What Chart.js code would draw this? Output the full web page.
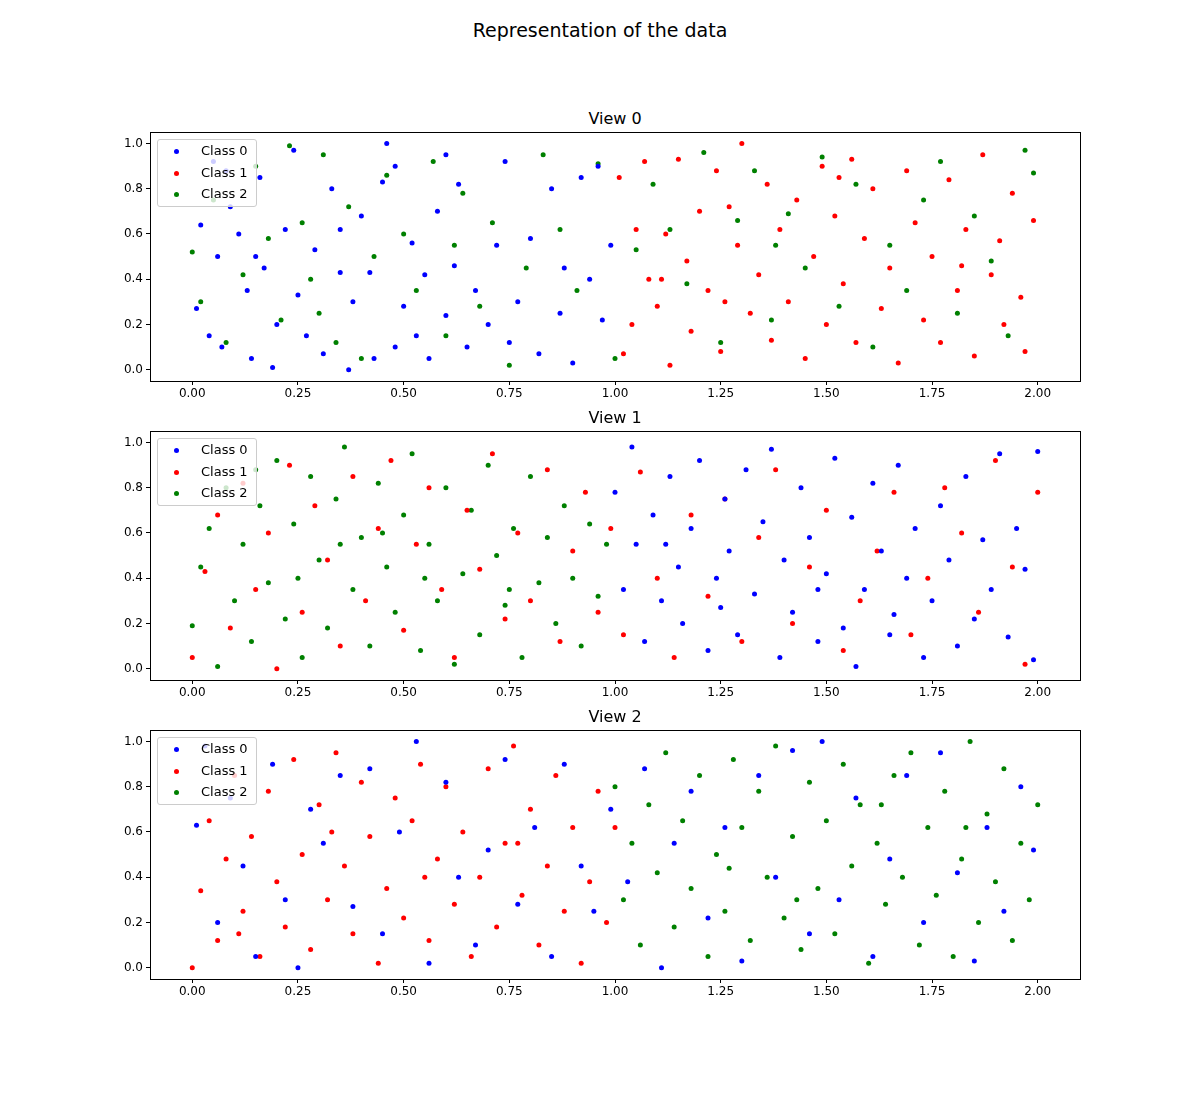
<!DOCTYPE html>
<html>
<head>
<meta charset="utf-8">
<script src="https://cdn.jsdelivr.net/npm/chart.js@4"></script>
<style>
  body { margin: 0; background: #fff; font-family: "DejaVu Sans", sans-serif; }
  #fig { position: relative; width: 1200px; height: 1100px; }
  .sup { position: absolute; top: 19px; left: 0; width: 1200px; text-align: center; font-size: 19px; color: #000; }
  .sub { position: absolute; left: 150px; width: 930px; text-align: center; font-size: 16px; color: #000; }
  .box { position: absolute; left: 0; width: 1200px; height: 289px; }
  .leg { position: absolute; left: 157px; width: 98px; height: 66px; border: 1px solid #ccc; border-radius: 3px; background: rgba(255,255,255,0.8); font-size: 13px; }
  .leg div { position: relative; height: 20.5px; line-height: 20.5px; padding-left: 43px; margin-top: 1px; }
  .leg span { position: absolute; left: 16px; top: 8px; width: 5px; height: 5px; border-radius: 50%; }
</style>
</head>
<body>
<div id="fig">
  <div class="sup">Representation of the data</div>
</div>
<script>
// flat [x, y, x, y, ...] lists
const view0Class0 = [0.01,0.27, 0.02,0.64, 0.04,0.15, 0.05,0.92, 0.06,0.50, 0.07,0.10, 0.09,0.72, 0.11,0.60, 0.13,0.35, 0.14,0.05, 0.16,0.85, 0.17,0.45, 0.19,0.01, 0.20,0.20, 0.22,0.62, 0.24,0.97, 0.25,0.33, 0.27,0.15, 0.29,0.53, 0.31,0.07, 0.33,0.80, 0.35,0.43, 0.37,0.00, 0.38,0.30, 0.40,0.68, 0.42,0.43, 0.43,0.05, 0.45,0.83, 0.46,1.00, 0.48,0.90, 0.50,0.28, 0.52,0.56, 0.53,0.15, 0.55,0.42, 0.56,0.05, 0.58,0.70, 0.60,0.24, 0.62,0.46, 0.63,0.82, 0.65,0.10, 0.67,0.35, 0.70,0.20, 0.72,0.55, 0.74,0.92, 0.75,0.12, 0.77,0.30, 0.80,0.58, 0.82,0.07, 0.85,0.80, 0.87,0.25, 0.88,0.45, 0.90,0.03, 0.92,0.85, 0.94,0.40, 0.96,0.90, 0.97,0.22, 0.99,0.55, 0.60,0.95, 0.48,0.10, 0.15,0.50, 0.35,0.62, 0.08,0.88];
const view0Class1 = [1.01,0.85, 1.02,0.07, 1.04,0.20, 1.05,0.62, 1.07,0.92, 1.08,0.40, 1.10,0.28, 1.12,0.60, 1.13,0.02, 1.15,0.93, 1.17,0.48, 1.18,0.17, 1.20,0.70, 1.22,0.35, 1.24,0.88, 1.25,0.08, 1.27,0.72, 1.29,0.55, 1.30,1.00, 1.32,0.25, 1.34,0.42, 1.36,0.82, 1.37,0.13, 1.39,0.62, 1.41,0.30, 1.43,0.75, 1.45,0.05, 1.47,0.50, 1.49,0.90, 1.50,0.20, 1.52,0.68, 1.54,0.38, 1.56,0.93, 1.57,0.12, 1.59,0.58, 1.61,0.80, 1.63,0.27, 1.65,0.45, 1.67,0.03, 1.69,0.88, 1.71,0.65, 1.73,0.22, 1.75,0.50, 1.77,0.12, 1.79,0.84, 1.81,0.35, 1.83,0.62, 1.85,0.06, 1.87,0.95, 1.89,0.42, 1.91,0.57, 1.92,0.20, 1.94,0.78, 1.96,0.32, 1.97,0.08, 1.99,0.66, 1.26,0.30, 1.53,0.85, 1.82,0.46, 1.11,0.40];
const view0Class2 = [0.00,0.52, 0.02,0.30, 0.05,0.75, 0.08,0.12, 0.12,0.42, 0.15,0.90, 0.18,0.58, 0.21,0.22, 0.23,0.99, 0.26,0.65, 0.28,0.40, 0.31,0.95, 0.34,0.12, 0.37,0.72, 0.40,0.05, 0.43,0.50, 0.46,0.86, 0.50,0.60, 0.53,0.35, 0.57,0.92, 0.60,0.15, 0.64,0.78, 0.68,0.28, 0.71,0.65, 0.75,0.02, 0.79,0.45, 0.83,0.95, 0.87,0.62, 0.91,0.35, 0.96,0.91, 1.00,0.05, 1.05,0.53, 1.09,0.82, 1.13,0.62, 1.17,0.38, 1.21,0.96, 1.25,0.12, 1.29,0.66, 1.33,0.88, 1.37,0.22, 1.41,0.69, 1.45,0.45, 1.49,0.94, 1.53,0.28, 1.57,0.82, 1.61,0.10, 1.65,0.55, 1.69,0.35, 1.73,0.75, 1.77,0.92, 1.81,0.25, 1.85,0.68, 1.89,0.48, 1.93,0.15, 1.97,0.97, 1.99,0.87, 0.30,0.25, 1.38,0.55, 0.62,0.55];

const view1Class0 = [1.00,0.78, 1.02,0.35, 1.04,0.98, 1.05,0.55, 1.07,0.12, 1.09,0.68, 1.11,0.30, 1.13,0.85, 1.15,0.45, 1.16,0.20, 1.18,0.62, 1.20,0.92, 1.22,0.08, 1.24,0.40, 1.26,0.75, 1.27,0.52, 1.29,0.15, 1.31,0.88, 1.33,0.33, 1.35,0.65, 1.37,0.97, 1.39,0.05, 1.40,0.48, 1.42,0.25, 1.44,0.80, 1.46,0.58, 1.48,0.12, 1.50,0.42, 1.52,0.93, 1.54,0.18, 1.56,0.67, 1.57,0.01, 1.59,0.35, 1.61,0.82, 1.63,0.52, 1.65,0.15, 1.67,0.90, 1.69,0.40, 1.71,0.62, 1.73,0.05, 1.75,0.30, 1.77,0.72, 1.79,0.48, 1.81,0.10, 1.83,0.85, 1.85,0.22, 1.87,0.57, 1.89,0.35, 1.91,0.95, 1.93,0.14, 1.95,0.62, 1.97,0.44, 1.99,0.04, 2.00,0.96, 1.48,0.35, 1.25,0.27, 1.66,0.24, 1.12,0.55];
const view1Class1 = [0.00,0.05, 0.03,0.43, 0.06,0.68, 0.09,0.18, 0.12,0.82, 0.15,0.35, 0.18,0.60, 0.20,0.00, 0.23,0.90, 0.26,0.25, 0.29,0.72, 0.32,0.48, 0.35,0.10, 0.38,0.85, 0.41,0.30, 0.44,0.62, 0.47,0.92, 0.50,0.17, 0.53,0.55, 0.56,0.80, 0.59,0.35, 0.62,0.05, 0.65,0.70, 0.68,0.44, 0.71,0.95, 0.74,0.22, 0.77,0.60, 0.80,0.30, 0.84,0.88, 0.87,0.12, 0.90,0.52, 0.93,0.78, 0.96,0.25, 0.99,0.62, 1.02,0.15, 1.06,0.87, 1.10,0.40, 1.14,0.05, 1.18,0.68, 1.22,0.32, 1.26,0.75, 1.30,0.12, 1.34,0.58, 1.38,0.88, 1.42,0.20, 1.46,0.45, 1.50,0.70, 1.54,0.08, 1.58,0.30, 1.62,0.52, 1.66,0.78, 1.70,0.15, 1.74,0.40, 1.78,0.80, 1.82,0.60, 1.86,0.25, 1.90,0.92, 1.94,0.45, 1.97,0.02, 2.00,0.78];
const view1Class2 = [0.00,0.19, 0.02,0.45, 0.04,0.62, 0.06,0.01, 0.08,0.80, 0.10,0.30, 0.12,0.55, 0.14,0.12, 0.16,0.72, 0.18,0.38, 0.20,0.92, 0.22,0.22, 0.24,0.64, 0.26,0.05, 0.28,0.85, 0.30,0.48, 0.32,0.18, 0.34,0.75, 0.36,0.98, 0.38,0.35, 0.40,0.58, 0.42,0.10, 0.44,0.82, 0.46,0.45, 0.48,0.25, 0.50,0.68, 0.52,0.95, 0.54,0.08, 0.56,0.55, 0.58,0.30, 0.60,0.80, 0.62,0.02, 0.64,0.42, 0.66,0.70, 0.68,0.15, 0.70,0.90, 0.72,0.50, 0.74,0.28, 0.76,0.62, 0.78,0.05, 0.80,0.85, 0.82,0.38, 0.84,0.58, 0.86,0.20, 0.88,0.72, 0.90,0.40, 0.92,0.10, 0.94,0.64, 0.96,0.32, 0.98,0.55, 0.15,0.88, 0.35,0.55, 0.55,0.40, 0.75,0.35, 0.25,0.40, 0.45,0.60];

const view2Class0 = [0.01,0.63, 0.03,0.98, 0.06,0.20, 0.09,0.75, 0.12,0.45, 0.15,0.05, 0.19,0.90, 0.22,0.30, 0.25,0.00, 0.28,0.70, 0.31,0.55, 0.35,0.85, 0.38,0.27, 0.42,0.88, 0.45,0.15, 0.49,0.60, 0.53,1.00, 0.56,0.02, 0.60,0.82, 0.63,0.40, 0.67,0.10, 0.70,0.52, 0.74,0.92, 0.77,0.28, 0.81,0.62, 0.85,0.05, 0.88,0.90, 0.92,0.45, 0.95,0.25, 0.99,0.70, 1.03,0.38, 1.07,0.88, 1.11,0.00, 1.14,0.55, 1.18,0.78, 1.22,0.22, 1.26,0.62, 1.30,0.03, 1.34,0.85, 1.38,0.40, 1.42,0.96, 1.46,0.15, 1.49,1.00, 1.53,0.30, 1.57,0.75, 1.61,0.05, 1.65,0.48, 1.69,0.85, 1.73,0.20, 1.77,0.95, 1.81,0.42, 1.85,0.03, 1.88,0.62, 1.92,0.25, 1.96,0.80, 1.99,0.52];
const view2Class1 = [0.00,0.00, 0.02,0.34, 0.04,0.65, 0.06,0.12, 0.08,0.48, 0.10,0.85, 0.12,0.25, 0.14,0.58, 0.16,0.05, 0.18,0.78, 0.20,0.38, 0.22,0.18, 0.24,0.92, 0.26,0.50, 0.28,0.08, 0.30,0.72, 0.32,0.30, 0.34,0.95, 0.36,0.45, 0.38,0.15, 0.40,0.82, 0.42,0.58, 0.44,0.02, 0.46,0.35, 0.48,0.75, 0.50,0.22, 0.52,0.65, 0.54,0.90, 0.56,0.12, 0.58,0.48, 0.60,0.80, 0.62,0.28, 0.64,0.60, 0.66,0.05, 0.68,0.40, 0.70,0.88, 0.72,0.18, 0.74,0.55, 0.76,0.98, 0.78,0.32, 0.80,0.70, 0.82,0.10, 0.84,0.45, 0.86,0.85, 0.88,0.25, 0.90,0.62, 0.92,0.02, 0.94,0.38, 0.96,0.78, 0.98,0.20, 1.00,0.62, 0.11,0.15, 0.33,0.60, 0.55,0.40, 0.77,0.55];
const view2Class2 = [1.00,0.80, 1.02,0.30, 1.04,0.55, 1.06,0.10, 1.08,0.72, 1.10,0.42, 1.12,0.95, 1.14,0.18, 1.16,0.65, 1.18,0.35, 1.20,0.85, 1.22,0.05, 1.24,0.50, 1.26,0.25, 1.28,0.92, 1.30,0.62, 1.32,0.12, 1.34,0.78, 1.36,0.40, 1.38,0.98, 1.40,0.22, 1.42,0.58, 1.44,0.08, 1.46,0.82, 1.48,0.35, 1.50,0.65, 1.52,0.15, 1.54,0.90, 1.56,0.45, 1.58,0.72, 1.60,0.02, 1.62,0.55, 1.64,0.28, 1.66,0.85, 1.68,0.40, 1.70,0.95, 1.72,0.10, 1.74,0.62, 1.76,0.32, 1.78,0.78, 1.80,0.05, 1.82,0.48, 1.84,1.00, 1.86,0.20, 1.88,0.68, 1.90,0.38, 1.92,0.88, 1.94,0.12, 1.96,0.55, 1.98,0.30, 2.00,0.72, 1.27,0.44, 1.43,0.30, 1.63,0.72, 1.83,0.62];

const classNames = ['Class 0', 'Class 1', 'Class 2'];
const classColors = ['#0000ff', '#ff0000', '#008000'];
const viewTitles = ['View 0', 'View 1', 'View 2'];
const views = [
  [view0Class0, view0Class1, view0Class2],
  [view1Class0, view1Class1, view1Class2],
  [view2Class0, view2Class1, view2Class2],
];
const xTicks = [0, 0.25, 0.5, 0.75, 1, 1.25, 1.5, 1.75, 2];
const yTicks = [0, 0.2, 0.4, 0.6, 0.8, 1.0];
const axesTops = [132, 431, 730];

function toPoints(flat) {
  const pts = [];
  for (let i = 0; i < flat.length; i += 2) pts.push({ x: flat[i], y: flat[i + 1] });
  return pts;
}

// black frame around the plot area, like matplotlib
const frame = {
  id: 'frame',
  afterDraw(chart) {
    const a = chart.chartArea;
    const ctx = chart.ctx;
    ctx.save();
    ctx.strokeStyle = '#000';
    ctx.lineWidth = 1;
    ctx.strokeRect(Math.round(a.left) + 0.5, Math.round(a.top) + 0.5, Math.round(a.right - a.left), Math.round(a.bottom - a.top));
    ctx.restore();
  },
};

const fig = document.getElementById('fig');
Chart.defaults.font.family = '"DejaVu Sans", sans-serif';
Chart.defaults.color = '#000';

views.forEach((classes, v) => {
  const top = axesTops[v];

  const title = document.createElement('div');
  title.className = 'sub';
  title.style.top = (top - 23) + 'px';
  title.textContent = viewTitles[v];
  fig.appendChild(title);

  // chart.js leaves ~10px above the plot for the top tick label
  const box = document.createElement('div');
  box.className = 'box';
  box.style.top = (top - 10) + 'px';
  const canvas = document.createElement('canvas');
  box.appendChild(canvas);
  fig.appendChild(box);

  new Chart(canvas, {
    type: 'scatter',
    data: {
      datasets: classes.map((flat, c) => ({
        label: classNames[c],
        data: toPoints(flat),
        backgroundColor: classColors[c],
        borderWidth: 0,
        pointRadius: 2.5,
      })),
    },
    options: {
      responsive: true,
      maintainAspectRatio: false,
      animation: false,
      layout: { padding: { left: 0, right: 120, top: 0, bottom: 0 } },
      plugins: { legend: { display: false }, tooltip: { enabled: false } },
      scales: {
        x: {
          type: 'linear',
          min: -0.1,
          max: 2.1,
          afterFit: (s) => { s.height = 30; },
          afterBuildTicks: (s) => { s.ticks = xTicks.map((t) => ({ value: t })); },
          ticks: { font: { size: 12 }, padding: 2, callback: (val) => val.toFixed(2) },
          grid: { drawOnChartArea: false, tickLength: 4, color: '#000' },
          border: { display: false },
        },
        y: {
          type: 'linear',
          min: -0.05,
          max: 1.05,
          afterFit: (s) => { s.width = 150; },
          afterBuildTicks: (s) => { s.ticks = yTicks.map((t) => ({ value: t })); },
          ticks: { font: { size: 12 }, padding: 3, callback: (val) => val.toFixed(1) },
          grid: { drawOnChartArea: false, tickLength: 4, color: '#000' },
          border: { display: false },
        },
      },
    },
    plugins: [frame],
  });

  const leg = document.createElement('div');
  leg.className = 'leg';
  leg.style.top = (top + 7) + 'px';
  classNames.forEach((name, c) => {
    const row = document.createElement('div');
    const dot = document.createElement('span');
    dot.style.background = classColors[c];
    row.appendChild(dot);
    row.appendChild(document.createTextNode(name));
    leg.appendChild(row);
  });
  fig.appendChild(leg);
});
</script>
</body>
</html>
